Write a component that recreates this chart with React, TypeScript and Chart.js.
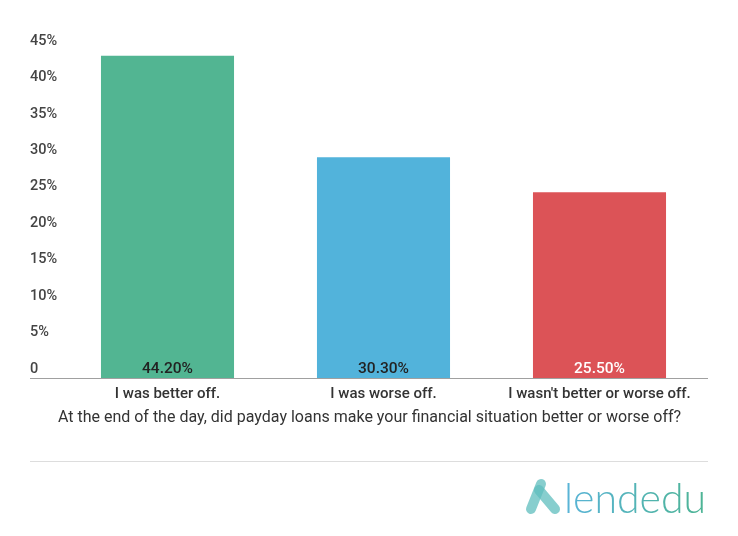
import React, { useEffect, useRef } from "react";
import { Chart, registerables } from "chart.js";

Chart.register(...registerables);

const categories = ["I was better off.", "I was worse off.", "I wasn't better or worse off."];
const values = [44.2, 30.3, 25.5];
const valueLabels = ["44.20%", "30.30%", "25.50%"];
const barColors = ["#52b592", "#52b3db", "#dc5357"];
const valueTextColors = ["#222222", "#222222", "#ffffff"];
const axisTitle = "At the end of the day, did payday loans make your financial situation better or worse off?";
const yMax = 45;
const yStep = 5;

const extrasPlugin = {
  id: "extras",
  afterDatasetsDraw(chart: any) {
    const { ctx, chartArea, scales } = chart;
    const y0 = scales.y.getPixelForValue(0);
    ctx.save();
    // baseline
    ctx.strokeStyle = "#a0a0a0";
    ctx.lineWidth = 1;
    ctx.beginPath();
    ctx.moveTo(30, Math.round(y0) + 0.5);
    ctx.lineTo(chartArea.right + 0.5, Math.round(y0) + 0.5);
    ctx.stroke();
    // value labels
    const meta = chart.getDatasetMeta(0);
    ctx.font = "500 15.5px Roboto";
    ctx.textAlign = "center";
    ctx.textBaseline = "middle";
    meta.data.forEach((bar: any, i: number) => {
      ctx.fillStyle = valueTextColors[i];
      ctx.fillText(valueLabels[i], bar.x, y0 - 9);
    });
    // axis title
    ctx.font = "400 16px Roboto";
    ctx.fillStyle = "#333333";
    ctx.fillText(axisTitle, 369.5, 418);
    // separator
    ctx.strokeStyle = "#dddddd";
    ctx.beginPath();
    ctx.moveTo(30, 461.5);
    ctx.lineTo(708, 461.5);
    ctx.stroke();
    // logo icon
    ctx.lineCap = "round";
    ctx.lineWidth = 10;
    ctx.strokeStyle = "rgba(95,190,190,0.75)";
    ctx.beginPath();
    ctx.moveTo(541, 484);
    ctx.lineTo(531, 509);
    ctx.stroke();
    ctx.beginPath();
    ctx.moveTo(539, 490);
    ctx.lineTo(555, 509);
    ctx.stroke();
    // logo text
    const grad = ctx.createLinearGradient(565, 0, 705, 0);
    grad.addColorStop(0, "#5ab4d8");
    grad.addColorStop(1, "#4db494");
    ctx.fillStyle = grad;
    ctx.font = "300 41px Lato";
    ctx.textAlign = "left";
    ctx.textBaseline = "alphabetic";
    ctx.fillText("lendedu", 564, 513);
    ctx.restore();
  },
};

export default function App() {
  const ref = useRef<HTMLCanvasElement | null>(null);
  useEffect(() => {
    if (!ref.current) return;
    const chart = new Chart(ref.current, {
      type: "bar",
      data: {
        labels: categories,
        datasets: [
          {
            data: values,
            backgroundColor: barColors,
            categoryPercentage: 1,
            barPercentage: 0.616,
          },
        ],
      },
      options: {
        animation: false,
        responsive: false,
        devicePixelRatio: 1,
        layout: { padding: { top: 50, left: 30, right: 30.5, bottom: 130 } },
        plugins: { legend: { display: false }, tooltip: { enabled: false } },
        scales: {
          x: {
            grid: { display: false, drawTicks: false },
            border: { display: false },
            ticks: {
              color: "#333333",
              font: { family: "Roboto", size: 15, weight: "500" },
              padding: 7,
              maxRotation: 0,
            },
            afterFit: (s: any) => {
              s.height = 28;
            },
          },
          y: {
            min: 0,
            max: yMax,
            grid: { display: false, drawTicks: false },
            border: { display: false },
            ticks: {
              stepSize: yStep,
              color: "#444444",
              font: { family: "Roboto", size: 14.5, weight: "500" },
              crossAlign: "far",
              labelOffset: -9,
              padding: 0,
              callback: (v: any) => (Number(v) === 0 ? "0" : `${v}%`),
            },
            afterFit: (s: any) => {
              s.width = 29.5;
            },
          },
        },
      },
      plugins: [extrasPlugin],
    });
    return () => chart.destroy();
  }, []);
  return (
    <div style={{ position: "fixed", left: 0, top: 0, width: 738, height: 536, background: "#fff" }}>
      <canvas ref={ref} width={738} height={536} style={{ display: "block" }} />
    </div>
  );
}
